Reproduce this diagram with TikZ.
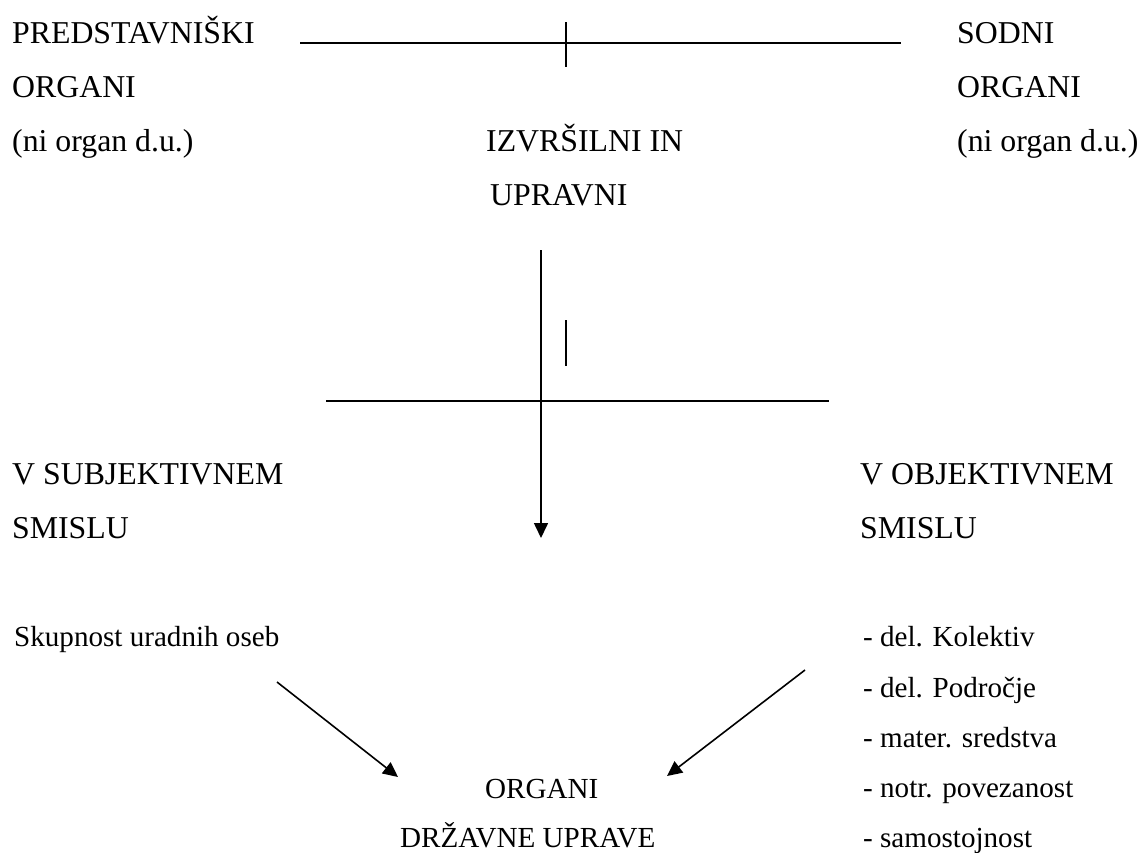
\documentclass[tikz,border=0pt]{standalone}
\usepackage{fontspec}
\setmainfont{Liberation Serif}
\usetikzlibrary{arrows.meta}
\begin{document}
\begin{tikzpicture}[x=1pt,y=-1pt,
  big/.style={anchor=base west,inner sep=0pt,font=\fontsize{31.8}{38}\selectfont},
  small/.style={anchor=base west,inner sep=0pt,font=\fontsize{29.1}{35}\selectfont},
  ln/.style={line width=1.6pt},
  arr/.style={line width=1.6pt,-{Triangle[length=15pt,width=14pt]}}]
\useasboundingbox (0,0) rectangle (1143,852);
% left column
\node[big] (l1) at (12,43) {PREDSTAVNIŠKI};
\node[big] (l2) at (12,97) {ORGANI};
\node[big] (l3) at (12,151) {(ni organ d.u.)};
% right column
\node[big] (r1) at (957,43) {SODNI};
\node[big] (r2) at (957,97) {ORGANI};
\node[big] (r3) at (957,151) {(ni organ d.u.)};
% centre
\node[big] (c1) at (486,151) {IZVRŠILNI IN};
\node[big] (c2) at (490,205) {UPRAVNI};
% middle row
\node[big] (s1) at (12,484) {V SUBJEKTIVNEM};
\node[big] (s2) at (12,538) {SMISLU};
\node[big] (o1) at (860,484) {V OBJEKTIVNEM};
\node[big] (o2) at (860,538) {SMISLU};
% bottom
\node[small] (sk) at (14,646) {Skupnost uradnih oseb};
\node[small] (k1) at (863,646) {- del. Kolektiv};
\node[small] (k2) at (863,697) {- del. Področje};
\node[small] (k3) at (863,747) {- mater. sredstva};
\node[small] (k4) at (863,797) {- notr. povezanost};
\node[small] (k5) at (863,847) {- samostojnost};
\node[small] (g1) at (485,798) {ORGANI};
\node[small] (g2) at (400,847) {DRŽAVNE UPRAVE};
% lines
\coordinate (tl) at (300,43);
\coordinate (tr) at (901,43);
\coordinate (tt) at (566,22);
\coordinate (tb) at (566,67);
\draw[ln] (tl) -- (tr);
\draw[ln] (tt) -- (tb);
\coordinate (vt) at (541,250);
\coordinate (vb) at (541,538);
\draw[arr] (vt) -- (vb);
\coordinate (st) at (566,320);
\coordinate (sb) at (566,366);
\draw[ln] (st) -- (sb);
\coordinate (hl) at (326,401);
\coordinate (hr) at (829,401);
\draw[ln] (hl) -- (hr);
\coordinate (a1s) at (277,682);
\coordinate (a1e) at (398,777);
\draw[arr] (a1s) -- (a1e);
\coordinate (a2s) at (805,670);
\coordinate (a2e) at (667,776);
\draw[arr] (a2s) -- (a2e);
\end{tikzpicture}
\end{document}
